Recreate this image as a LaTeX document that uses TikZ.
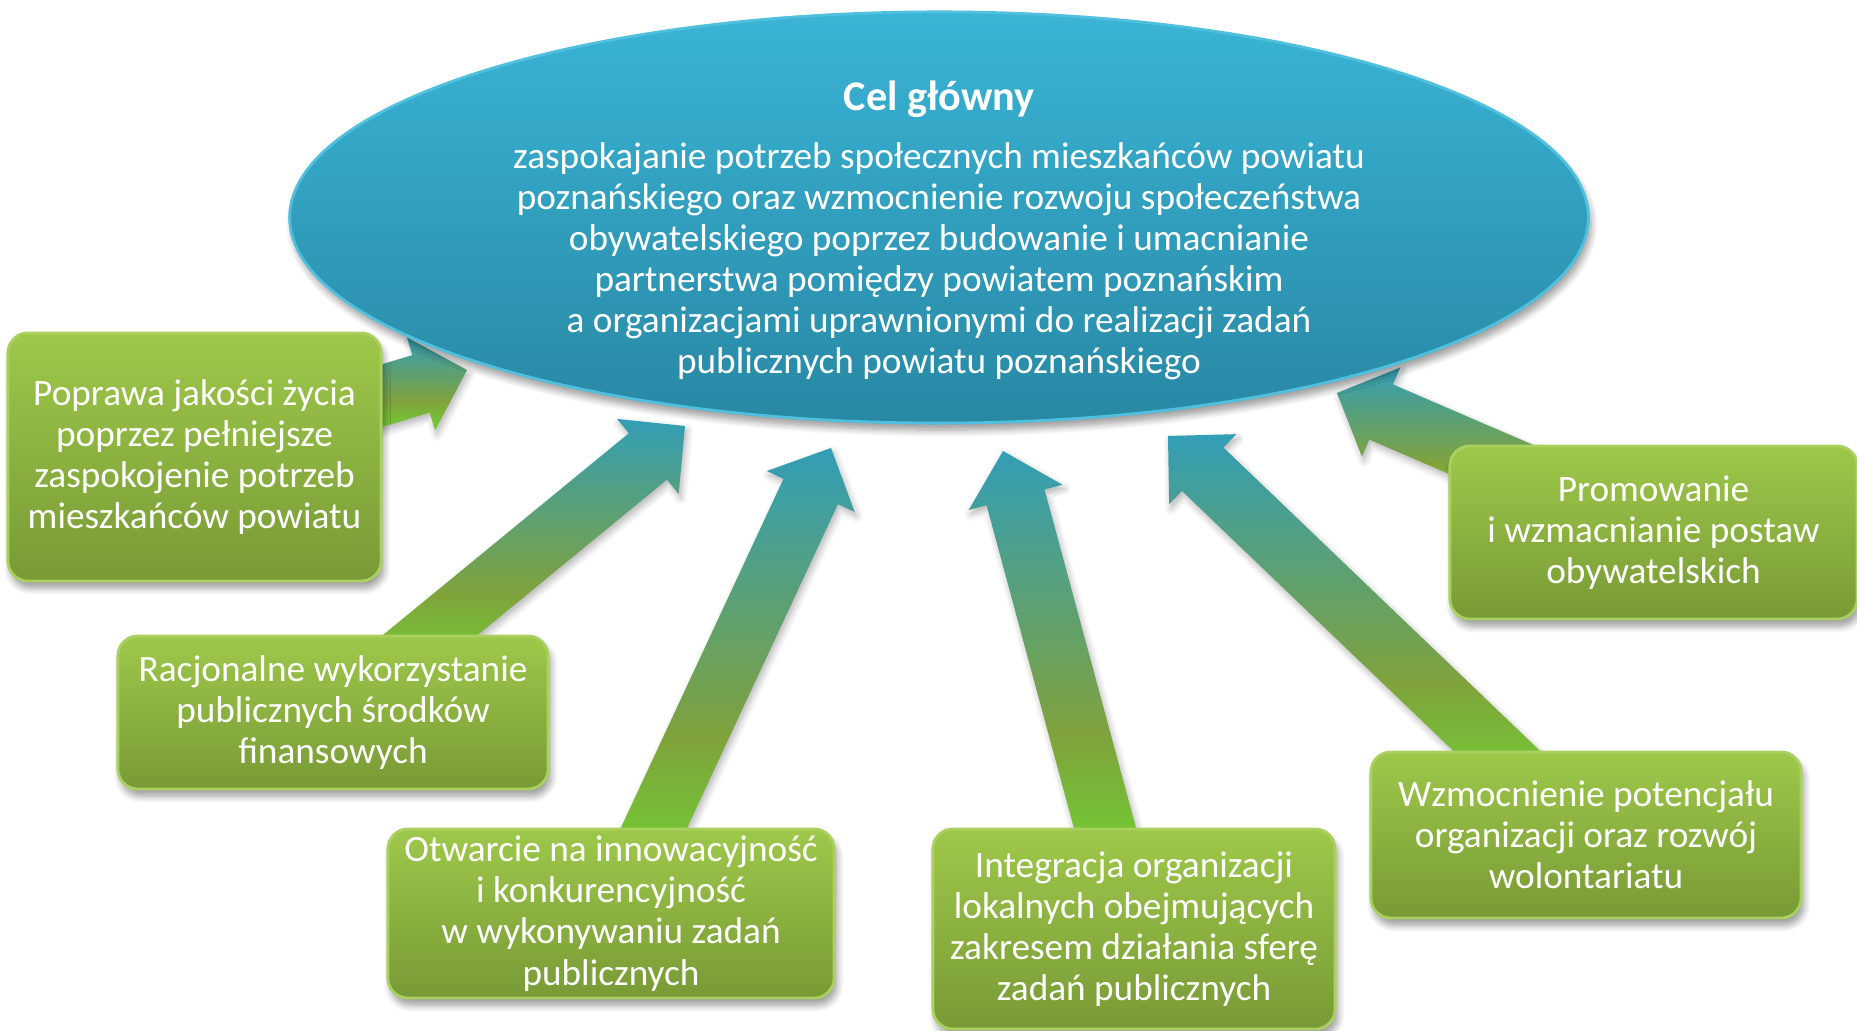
\documentclass[tikz,border=0pt]{standalone}
\usepackage{fontspec}
\setmainfont{Carlito}
\usetikzlibrary{positioning}
\usetikzlibrary{shapes,calc,shadows.blur}

\definecolor{turkus}{RGB}{50,158,182}
\definecolor{oliwka}{RGB}{128,162,60}
\definecolor{trawa}{RGB}{110,214,50}
\definecolor{nieboG}{RGB}{58,180,214}
\definecolor{nieboD}{RGB}{40,136,164}
\definecolor{nieboR}{RGB}{80,192,222}
\definecolor{zielG}{RGB}{158,200,74}
\definecolor{zielD}{RGB}{120,154,54}
\definecolor{zielR}{RGB}{170,208,96}

\pgfdeclareverticalshading{grot}{100bp}{color(0bp)=(trawa); color(25bp)=(trawa);
  color(42bp)=(oliwka); color(75bp)=(turkus); color(100bp)=(turkus)}
\pgfdeclarelayer{tlo}
\pgfsetlayers{tlo,main}

% #1 = punkt przy prostokacie, #2 = grot
\newcommand{\strzala}[2]{%
  \coordinate (so) at ($(#2)!1.12!(#1)$);
  \coordinate (sb) at ($(#2)!0.48cm!(#1)$);
  \shade[shading=grot, cienA]
    ($(so)!0.3cm!90:(#2)$) -- ($(sb)!0.3cm!90:(#2)$) -- ($(sb)!0.485cm!90:(#2)$)
    -- (#2) -- ($(sb)!0.485cm!-90:(#2)$) -- ($(sb)!0.3cm!-90:(#2)$)
    -- ($(so)!0.3cm!-90:(#2)$) -- cycle;
}

\begin{document}
\begin{tikzpicture}[x=0.01cm, y=-0.01cm,
  cienA/.style={blur shadow={shadow blur steps=6, shadow xshift=0.6pt, shadow yshift=-1.2pt, shadow opacity=30}},
  cienB/.style={blur shadow={shadow blur steps=8, shadow xshift=0.8pt, shadow yshift=-2pt, shadow opacity=40}},
  cel/.style={ellipse, minimum width=12.98cm, minimum height=4.11cm, inner sep=0pt,
    top color=nieboG, bottom color=nieboD, draw=nieboR, line width=0.8pt, cienB},
  zadanie/.style={rounded corners=0.2cm, top color=zielG, bottom color=zielD, draw=zielR,
    line width=0.8pt, text=white, align=center, inner sep=0pt, cienB,
    font=\fontsize{10.6}{11.7}\selectfont}]
\useasboundingbox (0,0) rectangle (1857,1031);

\node[cel] (cel) at (939,217.5) {};
\node[text=white, align=center, font=\fontsize{10.6}{11.65}\selectfont] (celtekst) at (939,230.5)
  {{\bfseries\fontsize{12}{14}\selectfont Cel główny}\\[5pt]
   zaspokajanie potrzeb społecznych mieszkańców powiatu\\
   poznańskiego oraz wzmocnienie rozwoju społeczeństwa\\
   obywatelskiego poprzez budowanie i umacnianie\\
   partnerstwa pomiędzy powiatem poznańskim\\
   a organizacjami uprawnionymi do realizacji zadań\\
   publicznych powiatu poznańskiego};

\node[zadanie, minimum width=3.73cm, minimum height=2.48cm] (b1) at (194.5,457)
  {Poprawa jakości życia\\poprzez pełniejsze\\zaspokojenie potrzeb\\mieszkańców powiatu};
\node[zadanie, minimum width=4.30cm, minimum height=1.53cm] (b2) at (333,712.5)
  {Racjonalne wykorzystanie\\publicznych środków\\finansowych};
\node[zadanie, minimum width=4.46cm, minimum height=1.69cm] (b3) at (611,913.5)
  {Otwarcie na innowacyjność\\i konkurencyjność\\w wykonywaniu zadań\\publicznych};
\node[zadanie, minimum width=4.02cm, minimum height=2.00cm] (b4) at (1134,929)
  {Integracja organizacji\\lokalnych obejmujących\\zakresem działania sferę\\zadań publicznych};
\node[zadanie, minimum width=4.30cm, minimum height=1.66cm] (b5) at (1586,835)
  {Wzmocnienie potencjału\\organizacji oraz rozwój\\wolontariatu};
\node[zadanie, minimum width=4.07cm, minimum height=1.73cm] (b6) at (1653.5,532.5)
  {Promowanie\\i wzmacnianie postaw\\obywatelskich};

% groty strzalek przy elipsie
\coordinate (g1) at (467,370);
\coordinate (g2) at (685,426);
\coordinate (g3) at (831,448);
\coordinate (g4) at (1003,451);
\coordinate (g5) at (1168,436);
\coordinate (g6) at (1337,393);
% poczatki przy prostokatach
\coordinate (p1) at ($(b1.north east)+(-20,70)$);
\coordinate (p2) at ($(b2.north west)!0.726!(b2.north east)$);
\coordinate (p3) at ($(b3.north west)!0.596!(b3.north east)$);
\coordinate (p4) at ($(b4.north west)!0.428!(b4.north east)$);
\coordinate (p5) at ($(b5.north west)!0.293!(b5.north east)$);
\coordinate (p6) at ($(b6.north west)+(80,31)$);

\begin{pgfonlayer}{tlo}
\strzala{p1}{g1}
\strzala{p2}{g2}
\strzala{p3}{g3}
\strzala{p4}{g4}
\strzala{p5}{g5}
\strzala{p6}{g6}
\end{pgfonlayer}
\end{tikzpicture}
\end{document}
